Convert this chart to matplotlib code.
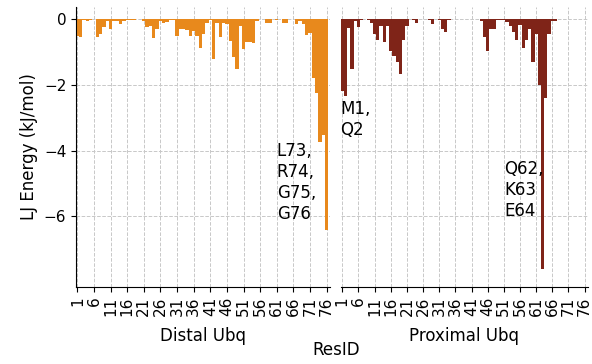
import numpy as np
import matplotlib
matplotlib.use("Agg")
import matplotlib.pyplot as plt

# LJ interaction energy per residue for each ubiquitin unit
resid = np.arange(1, 77)

distal_lj = [
    -0.50, -0.55, -0.02, -0.05, -0.02, 0.00, -0.55, -0.45, -0.22, -0.05,
    -0.30, -0.05, -0.05, -0.15, -0.05, -0.03, -0.02, -0.02, 0.00, 0.00,
    -0.05, -0.22, -0.20, -0.58, -0.28, -0.05, -0.10, -0.08, -0.03, -0.02,
    -0.50, -0.30, -0.30, -0.32, -0.50, -0.35, -0.50, -0.87, -0.45, -0.10,
    -0.03, -1.22, -0.10, -0.55, -0.10, -0.15, -0.65, -1.15, -1.50, -0.20,
    -0.90, -0.68, -0.68, -0.72, -0.05, 0.00, 0.00, -0.10, -0.10, 0.00,
    -0.03, 0.00, -0.12, -0.12, 0.00, 0.00, -0.15, -0.05, -0.15, -0.48,
    -0.40, -1.78, -2.24, -3.73, -3.53, -6.42,
]

proximal_lj = [
    -2.17, -2.33, -0.25, -1.52, -0.05, -0.22, -0.03, 0.00, -0.03, -0.10,
    -0.45, -0.63, -0.20, -0.70, -0.20, -0.95, -1.12, -1.30, -1.67, -0.62,
    -0.20, 0.00, -0.03, -0.10, 0.00, 0.00, 0.00, -0.03, -0.15, 0.00,
    -0.02, -0.30, -0.37, -0.02, 0.00, 0.00, 0.00, 0.00, 0.00, 0.00,
    0.00, 0.00, 0.00, -0.05, -0.55, -0.97, -0.30, -0.30, -0.02, -0.02,
    -0.03, -0.07, -0.20, -0.38, -0.63, -0.17, -0.87, -0.63, -0.30, -1.30,
    -0.43, -2.00, -7.60, -2.40, -0.43, -0.05, -0.05, 0.00, 0.00, 0.00,
    0.00, 0.00, 0.00, 0.00, 0.00, 0.00,
]

xticks = list(range(1, 77, 5))

fig = plt.figure(figsize=(5.92, 3.64), dpi=100)
ax1 = fig.add_axes([0.1284, 0.2115, 0.429, 0.7695])
ax2 = fig.add_axes([0.576, 0.2115, 0.417, 0.7695], sharey=ax1)

ax1.bar(resid, distal_lj, width=1.0, color="#E8891C", linewidth=0)
ax2.bar(resid, proximal_lj, width=1.0, color="#7F2418", linewidth=0)

for ax, name in [(ax1, "Distal Ubq"), (ax2, "Proximal Ubq")]:
    ax.set_xlim(0.6, 77)
    ax.set_xticks(xticks)
    ax.set_xticklabels([str(t) for t in xticks], rotation=90, fontsize=11)
    ax.set_xlabel(name, fontsize=12, labelpad=8)
    ax.grid(True, linestyle="--", color="#c8c8c8", linewidth=0.7)
    ax.set_axisbelow(True)
    ax.spines["top"].set_visible(False)
    ax.spines["right"].set_visible(False)

ax1.set_ylim(-8.15, 0.38)
ax1.set_yticks([0, -2, -4, -6])
ax1.tick_params(axis="y", labelsize=11)
ax1.set_ylabel("LJ Energy (kJ/mol)", fontsize=12)

ax2.spines["left"].set_visible(False)
ax2.tick_params(axis="y", left=False, labelleft=False)

ax1.text(61, -3.74, "L73,\nR74,\nG75,\nG76", fontsize=12, ha="left", va="top")
ax2.text(0.3, -2.46, "M1,\nQ2", fontsize=12, ha="left", va="top")
ax2.text(51.1, -4.29, "Q62,\nK63\nE64", fontsize=12, ha="left", va="top")

fig.text(0.568, 0.038, "ResID", fontsize=12, ha="center", va="center")

fig.savefig("out.png", dpi=100)
